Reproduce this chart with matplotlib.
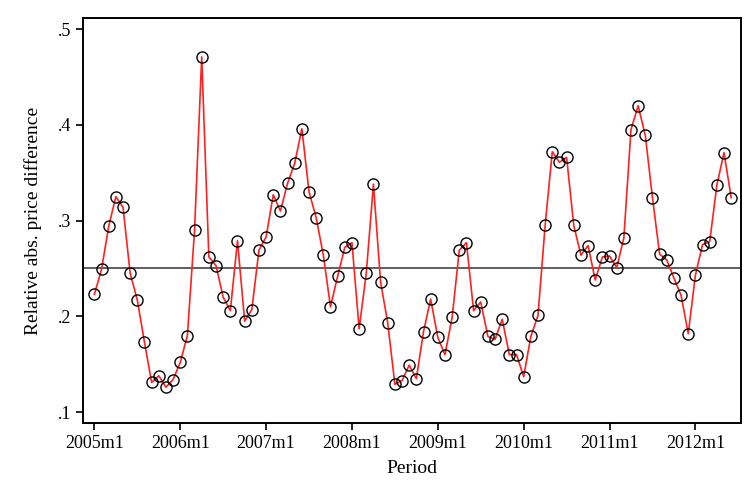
import numpy as np
import matplotlib
matplotlib.use("Agg")
from matplotlib import pyplot as plt

# monthly values, 2005m1 .. 2012m6
price_diff = [
    0.223, 0.249, 0.294, 0.325, 0.314, 0.245, 0.217, 0.173, 0.131, 0.138, 0.126, 0.134,
    0.152, 0.180, 0.290, 0.471, 0.262, 0.253, 0.220, 0.206, 0.279, 0.195, 0.207, 0.269,
    0.283, 0.327, 0.310, 0.339, 0.360, 0.396, 0.330, 0.303, 0.264, 0.210, 0.242, 0.272,
    0.277, 0.187, 0.245, 0.338, 0.236, 0.193, 0.129, 0.133, 0.149, 0.135, 0.184, 0.218,
    0.178, 0.160, 0.199, 0.269, 0.277, 0.206, 0.215, 0.179, 0.176, 0.197, 0.160, 0.160,
    0.137, 0.179, 0.201, 0.295, 0.372, 0.361, 0.366, 0.295, 0.264, 0.274, 0.238, 0.262,
    0.263, 0.251, 0.282, 0.395, 0.420, 0.389, 0.324, 0.265, 0.259, 0.240, 0.222, 0.182,
    0.243, 0.275, 0.278, 0.337, 0.371, 0.324,
]
mean_line = 0.25
year_labels = ["2005m1", "2006m1", "2007m1", "2008m1", "2009m1", "2010m1", "2011m1", "2012m1"]
y_ticks = [0.1, 0.2, 0.3, 0.4, 0.5]
y_tick_labels = [".1", ".2", ".3", ".4", ".5"]

plt.rcParams['font.family'] = ['Liberation Serif', 'DejaVu Serif']

fig = plt.figure(figsize=(7.54, 5.03), dpi=100)
ax = fig.add_axes([0.110, 0.159, 0.873, 0.805])

x = np.arange(len(price_diff))
ax.axhline(mean_line, color='#333333', lw=1.1, zorder=1)
ax.plot(x, price_diff, color='#ff2020', lw=1.2, zorder=2)
ax.plot(x, price_diff, ls='none', marker='o', ms=8, mfc='none', mec='black', mew=1.0, zorder=3)

ax.set_xlim(-1.6, 90.4)
ax.set_ylim(0.0886, 0.5115)
ax.set_xticks(np.arange(0, 85, 12))
ax.set_xticklabels(year_labels)
ax.set_yticks(y_ticks)
ax.set_yticklabels(y_tick_labels)
ax.tick_params(direction='out', length=5, width=1.2, labelsize=13, color='black')
ax.set_xlabel("Period", fontsize=14, labelpad=6)
ax.set_ylabel("Relative abs. price difference", fontsize=14, labelpad=11)
for s in ax.spines.values():
    s.set_linewidth(1.4)
    s.set_color('black')

fig.savefig("out.png", dpi=100)
